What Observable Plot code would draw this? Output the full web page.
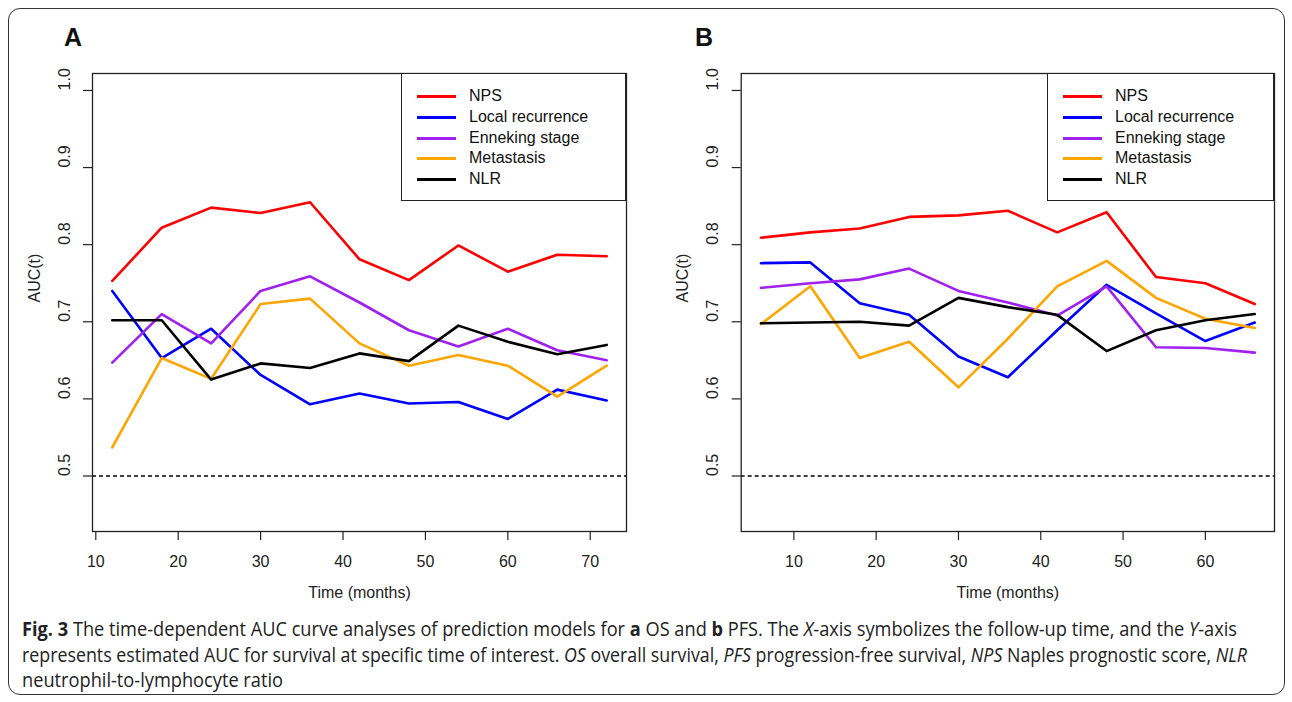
<!DOCTYPE html>
<html>
<head>
<meta charset="utf-8">
<script src="https://cdn.jsdelivr.net/npm/d3@7"></script>
<script src="https://cdn.jsdelivr.net/npm/@observablehq/plot@0.6"></script>
<style>
  html, body { margin: 0; padding: 0; background: #fff; }
  body { width: 1292px; height: 702px; position: relative; overflow: hidden; font-family: "Liberation Sans", Arial, sans-serif; }
  .frameBox { position: absolute; left: 8px; top: 8px; width: 1277px; height: 687px; border: 1.5px solid #333; border-radius: 12px; box-sizing: border-box; }
  .panel { position: absolute; top: 0; }
  .panelLabel { position: absolute; font-weight: bold; font-size: 25px; line-height: 25px; color: #111; }
  .legend { position: absolute; border: 1.2px solid #222; background: #fff; box-sizing: border-box; }
  .legend .item { position: absolute; left: 0; height: 20px; width: 100%; }
  .legend .sw { position: absolute; left: 15px; top: 9px; width: 39px; height: 3px; }
  .legend .lab { position: absolute; left: 67px; top: 0; font-size: 16px; line-height: 20px; color: #111; white-space: nowrap; }
  .caption { position: absolute; left: 22px; top: 616px; font-family: "Open Sans", "Noto Sans", sans-serif; font-size: 19.5px; line-height: 25.5px; color: #222; }
  .caption .line { white-space: nowrap; transform-origin: 0 0; display: block; width: max-content; }
</style>
</head>
<body>
<div class="frameBox"></div>
<div id="root"></div>
<script>
// ---------- data ----------
const seriesNames = ["NPS", "Local recurrence", "Enneking stage", "Metastasis", "NLR"];
const seriesColors = ["#ff0000", "#0000ff", "#a020f0", "#ffa500", "#000000"];

// Panel A (OS)
const timesA = [12, 18, 24, 30, 36, 42, 48, 54, 60, 66, 72];
const npsA        = [0.753, 0.822, 0.848, 0.841, 0.855, 0.781, 0.754, 0.799, 0.765, 0.787, 0.785];
const localRecA   = [0.740, 0.653, 0.691, 0.631, 0.593, 0.607, 0.594, 0.596, 0.574, 0.612, 0.598];
const ennekingA   = [0.647, 0.710, 0.672, 0.740, 0.759, 0.725, 0.689, 0.668, 0.691, 0.663, 0.650];
const metastasisA = [0.537, 0.653, 0.626, 0.723, 0.730, 0.672, 0.643, 0.657, 0.643, 0.603, 0.643];
const nlrA        = [0.702, 0.702, 0.625, 0.646, 0.640, 0.659, 0.649, 0.695, 0.674, 0.658, 0.670];

// Panel B (PFS)
const timesB = [6, 12, 18, 24, 30, 36, 42, 48, 54, 60, 66];
const npsB        = [0.809, 0.816, 0.821, 0.836, 0.838, 0.844, 0.816, 0.842, 0.758, 0.750, 0.723];
const localRecB   = [0.776, 0.777, 0.724, 0.709, 0.655, 0.628, 0.689, 0.748, 0.711, 0.675, 0.699];
const ennekingB   = [0.744, 0.750, 0.755, 0.769, 0.740, 0.725, 0.708, 0.746, 0.667, 0.666, 0.660];
const metastasisB = [0.697, 0.746, 0.653, 0.674, 0.615, 0.678, 0.746, 0.779, 0.731, 0.704, 0.692];
const nlrB        = [0.698, 0.699, 0.700, 0.695, 0.731, 0.719, 0.709, 0.662, 0.689, 0.702, 0.710];

const xTicksA = [10, 20, 30, 40, 50, 60, 70];
const xTicksB = [10, 20, 30, 40, 50, 60];
const yTicks = [0.5, 0.6, 0.7, 0.8, 0.9, 1.0];
const refLine = [0.5];
const xLabel = "Time (months)";
const yLabel = "AUC(t)";

// ---------- drawing ----------
function toRows(times, seriesValues) {
  const rows = [];
  seriesValues.forEach((vals, si) => vals.forEach((v, i) => rows.push({t: times[i], v, name: seriesNames[si]})));
  return rows;
}

function rExtend(lo, hi) { const d = (hi - lo) * 0.04; return [lo - d, hi + d]; }

function panel(times, seriesValues, xTicks, marginLeft, marginRight) {
  const rows = toRows(times, seriesValues);
  return Plot.plot({
    width: 646, height: 620,
    marginLeft, marginRight, marginTop: 73, marginBottom: 89,
    x: {domain: rExtend(d3.min(times), d3.max(times))},
    y: {domain: rExtend(0.45, 1.0)},
    color: {domain: seriesNames, range: seriesColors},
    style: {fontFamily: "'Liberation Sans', Arial, sans-serif", fontSize: "16px", color: "#222", background: "transparent", overflow: "visible"},
    marks: [
      Plot.ruleY(refLine, {stroke: "#000", strokeWidth: 1.3, strokeDasharray: "4,3"}),
      Plot.line(rows, {x: "t", y: "v", z: "name", stroke: "name", strokeWidth: 2.6, strokeLinejoin: "round", strokeLinecap: "round"}),
      Plot.frame({stroke: "#222", strokeWidth: 1.3}),
      Plot.axisX({ticks: xTicks, tickSize: 9, tickPadding: 15, fontSize: 16, label: null, stroke: "#222", strokeWidth: 1.2}),
      Plot.axisY({ticks: yTicks, tickSize: 9, tickFormat: () => "", label: null, stroke: "#222", strokeWidth: 1.2}),
      Plot.text(yTicks, {y: d => d, text: d => d.toFixed(1), frameAnchor: "left", dx: -28, rotate: -90, fontSize: 16, fill: "#222"}),
      Plot.text([xLabel], {frameAnchor: "bottom", dy: 66, fontSize: 16, fill: "#222"}),
      Plot.text([yLabel], {frameAnchor: "left", dx: -58, rotate: -90, fontSize: 16, fill: "#222"})
    ]
  });
}

function legend(left, top, width, height) {
  const box = document.createElement("div");
  box.className = "legend";
  Object.assign(box.style, {left: left + "px", top: top + "px", width: width + "px", height: height + "px"});
  seriesNames.forEach((n, i) => {
    const it = document.createElement("div");
    it.className = "item";
    it.style.top = (12 + i * 20.8) + "px";
    const sw = document.createElement("div");
    sw.className = "sw"; sw.style.background = seriesColors[i];
    const lab = document.createElement("div");
    lab.className = "lab"; lab.textContent = n;
    it.appendChild(sw); it.appendChild(lab);
    box.appendChild(it);
  });
  return box;
}

const root = document.getElementById("root");

const pA = panel(timesA, [npsA, localRecA, ennekingA, metastasisA, nlrA], xTicksA, 92, 20);
const wA = document.createElement("div"); wA.className = "panel"; wA.style.left = "0px"; wA.appendChild(pA);
root.appendChild(wA);

const pB = panel(timesB, [npsB, localRecB, ennekingB, metastasisB, nlrB], xTicksB, 94.7, 18);
const wB = document.createElement("div"); wB.className = "panel"; wB.style.left = "646px"; wB.appendChild(pB);
root.appendChild(wB);

root.appendChild(legend(401, 73, 225, 128));
root.appendChild(legend(1047, 73, 227, 128));

const la = document.createElement("div"); la.className = "panelLabel"; la.textContent = "A";
Object.assign(la.style, {left: "64px", top: "25px"}); root.appendChild(la);
const lb = document.createElement("div"); lb.className = "panelLabel"; lb.textContent = "B";
Object.assign(lb.style, {left: "695px", top: "25px"}); root.appendChild(lb);

// caption
const cap = document.createElement("div");
cap.className = "caption";
cap.innerHTML =
  '<span class="line"><b>Fig. 3</b> The time-dependent AUC curve analyses of prediction models for <b>a</b> OS and <b>b</b> PFS. The <i>X</i>-axis symbolizes the follow-up time, and the <i>Y</i>-axis</span>' +
  '<span class="line">represents estimated AUC for survival at specific time of interest. <i>OS</i> overall survival, <i>PFS</i> progression-free survival, <i>NPS</i> Naples prognostic score, <i>NLR</i></span>' +
  '<span class="line">neutrophil-to-lymphocyte ratio</span>';
root.appendChild(cap);
const lines = cap.querySelectorAll(".line");
const targets = [1215, 1225, 261];
lines.forEach((l, i) => {
  const w = l.getBoundingClientRect().width;
  l.style.transform = `scaleX(${targets[i] / w})`;
});
</script>
</body>
</html>
